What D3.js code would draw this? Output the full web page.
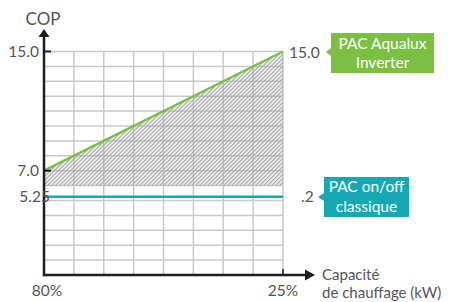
<!DOCTYPE html>
<html><head><meta charset="utf-8">
<script src="https://cdn.jsdelivr.net/npm/d3@7"></script>
<style>body{margin:0;background:#fff;} text{font-family:Lato,"Open Sans",sans-serif;}</style>
</head><body>
<svg id="c" width="457" height="302"></svg>
<script>
// data
const xTicks = [0,1,2,3,4,5,6,7,8];
const xLabels = ["80%","25%"];
const yGrid = d3.range(0,16);
const yTickLabels = [15.0, 7.0, 5.25];
const inverterValues = [7.0, 15.0];     // at x=0 and x=8
const onoffValue = 5.25;
const hatchFloor = 6.0;
const seriesNames = [["PAC Aqualux","Inverter"],["PAC on/off","classique"]];
const rightLabels = ["15.0",".2"];
const xTitle = ["Capacité","de chauffage (kW)"];

const svg = d3.select("#c");
const x = d3.scaleLinear().domain([0,8]).range([44,283]);
const y = d3.scaleLinear().domain([0,15]).range([275,51.5]);
const gray = "#555";

const defs = svg.append("defs");
const pat = defs.append("pattern").attr("id","hatch").attr("patternUnits","userSpaceOnUse")
  .attr("width",2.83).attr("height",4).attr("patternTransform","rotate(45)");
pat.append("line").attr("x1",0.7).attr("y1",0).attr("x2",0.7).attr("y2",4)
  .attr("stroke","#a8a8a8").attr("stroke-width",1.35);

// grid
svg.append("g").selectAll("line").data(xTicks).join("line")
  .attr("x1",d=>x(d)).attr("x2",d=>x(d)).attr("y1",y(15)).attr("y2",y(0))
  .attr("stroke","#c9c9c9").attr("stroke-width",1.5);
svg.append("g").selectAll("line").data(yGrid).join("line")
  .attr("x1",x(0)).attr("x2",x(8)).attr("y1",d=>y(d)).attr("y2",d=>y(d))
  .attr("stroke","#c9c9c9").attr("stroke-width",1.5);

// hatched area
const area = d3.area().x(d=>x(d.x)).y0(y(hatchFloor)).y1(d=>y(d.v));
const pts = [{x:0,v:inverterValues[0]},{x:8,v:inverterValues[1]}];
svg.append("path").datum(pts).attr("d",area).attr("fill","url(#hatch)");

// lines
svg.append("path").datum(pts).attr("d",d3.line().x(d=>x(d.x)).y(d=>y(d.v)))
  .attr("stroke","#7bc043").attr("stroke-width",2.5).attr("fill","none");
svg.append("line").attr("x1",x(0)).attr("x2",x(8)).attr("y1",y(onoffValue)).attr("y2",y(onoffValue))
  .attr("stroke","#17a8b6").attr("stroke-width",2.5);

// axes
const ax = "#1e1e1e";
svg.append("line").attr("x1",x(0)).attr("x2",x(0)).attr("y1",y(0)+1.2).attr("y2",36).attr("stroke",ax).attr("stroke-width",2.5);
svg.append("path").attr("d",`M${x(0)-5.5},37 L${x(0)},29 L${x(0)+5.5},37 Z`).attr("fill",ax);
svg.append("line").attr("x1",x(0)-1.2).attr("x2",306).attr("y1",y(0)).attr("y2",y(0)).attr("stroke",ax).attr("stroke-width",2.5);
svg.append("path").attr("d",`M305,${y(0)-5.5} L315,${y(0)} L305,${y(0)+5.5} Z`).attr("fill",ax);
// ticks
svg.append("g").selectAll("line").data([15,7]).join("line")
  .attr("x1",x(0)).attr("x2",x(0)+7).attr("y1",d=>y(d)).attr("y2",d=>y(d)).attr("stroke",ax).attr("stroke-width",2);
svg.append("line").attr("x1",x(8)).attr("x2",x(8)).attr("y1",y(0)).attr("y2",y(0)-6).attr("stroke",ax).attr("stroke-width",1.5);

// y labels
svg.append("text").attr("x",43).attr("y",25).attr("text-anchor","middle").attr("font-size",17).attr("fill",gray).text("COP");
svg.selectAll(".yl").data(yTickLabels).join("text")
  .attr("x",d=>d===5.25?50:39).attr("y",d=>y(d)).attr("dy","0.35em").attr("text-anchor","end")
  .attr("font-size",15.5).attr("fill",gray).text(d=>d===5.25?"5.25":d.toFixed(1));

// x labels
svg.selectAll(".xl").data(xLabels).join("text")
  .attr("x",(d,i)=>i===0?x(0)+3:x(8)).attr("y",296).attr("text-anchor","middle")
  .attr("font-size",15.5).attr("fill",gray).text(d=>d);
svg.selectAll(".xt").data(xTitle).join("text")
  .attr("x",322).attr("y",(d,i)=>i===0?279.5:298).attr("font-size",15).attr("fill",gray).text(d=>d);

// right labels
svg.append("text").attr("x",289).attr("y",y(15)+1).attr("dy","0.35em").attr("font-size",15.5).attr("fill",gray).text(rightLabels[0]);
svg.append("text").attr("x",301).attr("y",y(onoffValue)).attr("dy","0.35em").attr("font-size",15.5).attr("fill",gray).text(rightLabels[1]);

// callouts
function callout(x0,y0,x1,y1,tipX,tipY,color,lines,cx,b1,b2){
  svg.append("path").attr("d",`M${x0},${y0} H${x1} V${y1} H${x0} V${tipY+4} L${tipX},${tipY} L${x0},${tipY-4} Z`).attr("fill",color);
  const t = svg.append("text").attr("text-anchor","middle").attr("font-size",15.5).attr("fill","#fff");
  t.append("tspan").attr("x",cx).attr("y",b1).text(lines[0]);
  t.append("tspan").attr("x",cx).attr("y",b2).text(lines[1]);
}
callout(331,33,434,73,326,52,"#7bc043",seriesNames[0],382.5,49,68);
callout(324,177,409,217,318,197,"#17a8b6",seriesNames[1],366.5,192,212);
</script>
</body></html>
